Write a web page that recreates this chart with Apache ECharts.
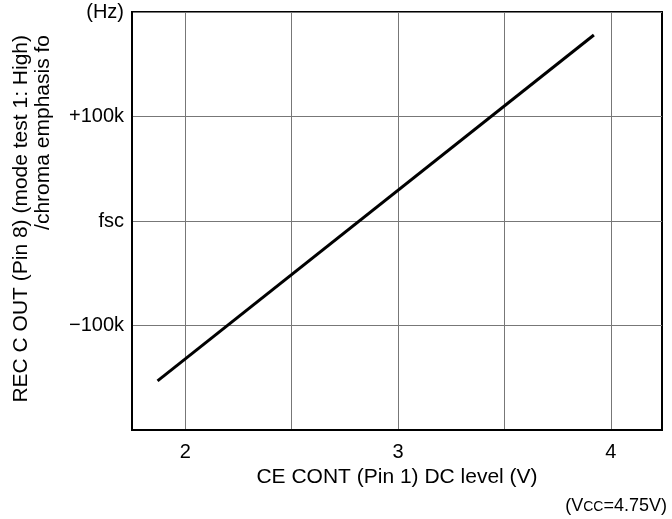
<!DOCTYPE html>
<html><head><meta charset="utf-8">
<script src="https://cdn.jsdelivr.net/npm/echarts@6/dist/echarts.min.js"></script>
<style>html,body{margin:0;padding:0;background:#fff}#c{width:672px;height:519px}</style>
</head><body><div id="c"></div>
<script>
var lineX = [1.87, 3.92];
var lineY = [-153, 178];
var xGridValues = [2, 2.5, 3, 3.5, 4];
var xLabelValues = [2, 3, 4];
var yTickLabels = {"200": "(Hz)", "100": "+100k", "0": "fsc", "-100": "\u2212100k", "-200": ""};
var FONT = "Liberation Sans, Arial, Helvetica, sans-serif";

var chart = echarts.init(document.getElementById('c'), null, {renderer: 'canvas'});
chart.setOption({
  animation: false,
  backgroundColor: '#fff',
  grid: {left: 132, top: 12, right: 10, bottom: 89, show: true, borderColor: '#000', borderWidth: 2, backgroundColor: 'transparent'},
  xAxis: {
    type: 'value', min: 1.75, max: 4.24,
    axisLine: {show: true, onZero: false, lineStyle: {color: '#000', width: 2}},
    axisTick: {show: false, customValues: xGridValues},
    splitLine: {show: true, lineStyle: {color: '#777', width: 1}},
    axisLabel: {customValues: xLabelValues, color: '#000', fontSize: 20, fontFamily: FONT, margin: 12},
    name: 'CE CONT (Pin 1) DC level (V)', nameLocation: 'middle', nameGap: 34,
    nameTextStyle: {color: '#000', fontSize: 21, fontFamily: FONT}
  },
  yAxis: {
    type: 'value', min: -200, max: 200, interval: 100,
    axisLine: {show: true, lineStyle: {color: '#000', width: 2}},
    axisTick: {show: false},
    splitLine: {show: true, lineStyle: {color: '#777', width: 1}},
    axisLabel: {color: '#000', fontSize: 20, fontFamily: FONT, margin: 8,
      formatter: function (v) { return yTickLabels[String(v)]; }}
  },
  graphic: [
    {type: 'text', x: 21, y: 35, rotation: Math.PI / 2,
      style: {text: 'REC C OUT (Pin 8) (mode test 1: High)', fill: '#000', font: '21px ' + FONT, textAlign: 'right', textVerticalAlign: 'middle'}},
    {type: 'text', x: 43, y: 35, rotation: Math.PI / 2,
      style: {text: '/chroma emphasis fo', fill: '#000', font: '21px ' + FONT, textAlign: 'right', textVerticalAlign: 'middle'}},
    {type: 'text', right: 5, top: 497,
      style: {text: '(V{s|CC}=4.75V)', fill: '#000', font: '18px ' + FONT,
        rich: {s: {fontSize: 14, fontFamily: FONT, fill: '#000', padding: [3, 0, 0, 0]}}}}
  ],
  series: [{
    type: 'line', showSymbol: false, symbol: 'none',
    data: [[lineX[0], lineY[0]], [lineX[1], lineY[1]]],
    lineStyle: {color: '#000', width: 3}
  }]
});
</script></body></html>
